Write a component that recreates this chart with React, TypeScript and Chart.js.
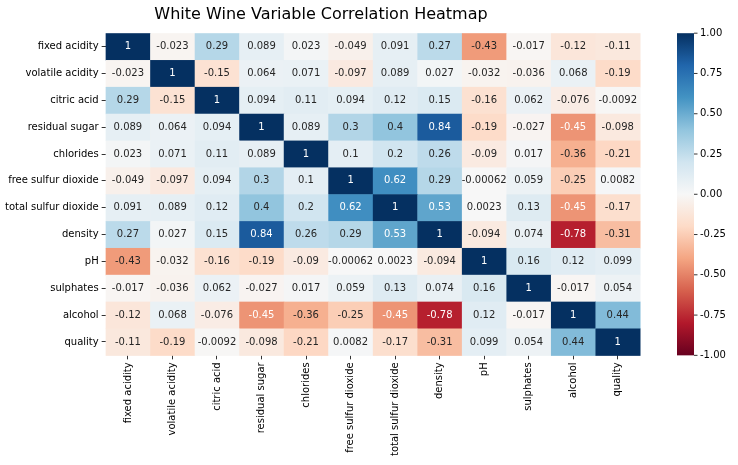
import React, { useEffect, useRef } from "react";
import { Chart, registerables } from "chart.js";
Chart.register(...registerables);

const variables = ["fixed acidity","volatile acidity","citric acid","residual sugar","chlorides","free sulfur dioxide","total sulfur dioxide","density","pH","sulphates","alcohol","quality"];
const rFixed = [1,-0.023,0.29,0.089,0.023,-0.049,0.091,0.27,-0.43,-0.017,-0.12,-0.11];
const rVolatile = [-0.023,1,-0.15,0.064,0.071,-0.097,0.089,0.027,-0.032,-0.036,0.068,-0.19];
const rCitric = [0.29,-0.15,1,0.094,0.11,0.094,0.12,0.15,-0.16,0.062,-0.076,-0.0092];
const rResidual = [0.089,0.064,0.094,1,0.089,0.3,0.4,0.84,-0.19,-0.027,-0.45,-0.098];
const rChlorides = [0.023,0.071,0.11,0.089,1,0.1,0.2,0.26,-0.09,0.017,-0.36,-0.21];
const rFree = [-0.049,-0.097,0.094,0.3,0.1,1,0.62,0.29,-0.00062,0.059,-0.25,0.0082];
const rTotal = [0.091,0.089,0.12,0.4,0.2,0.62,1,0.53,0.0023,0.13,-0.45,-0.17];
const rDensity = [0.27,0.027,0.15,0.84,0.26,0.29,0.53,1,-0.094,0.074,-0.78,-0.31];
const rPH = [-0.43,-0.032,-0.16,-0.19,-0.09,-0.00062,0.0023,-0.094,1,0.16,0.12,0.099];
const rSulphates = [-0.017,-0.036,0.062,-0.027,0.017,0.059,0.13,0.074,0.16,1,-0.017,0.054];
const rAlcohol = [-0.12,0.068,-0.076,-0.45,-0.36,-0.25,-0.45,-0.78,0.12,-0.017,1,0.44];
const rQuality = [-0.11,-0.19,-0.0092,-0.098,-0.21,0.0082,-0.17,-0.31,0.099,0.054,0.44,1];
const matrix = [rFixed,rVolatile,rCitric,rResidual,rChlorides,rFree,rTotal,rDensity,rPH,rSulphates,rAlcohol,rQuality];
const cbTicks = [1, 0.75, 0.5, 0.25, 0, -0.25, -0.5, -0.75, -1];

const stops = ["#67001f","#b2182b","#d6604d","#f4a582","#fddbc7","#f7f7f7","#d1e5f0","#92c5de","#4393c3","#2166ac","#053061"].map(h => [parseInt(h.slice(1,3),16),parseInt(h.slice(3,5),16),parseInt(h.slice(5,7),16)]);
function rgb(v: number): number[] {
  const t = Math.max(0, Math.min(1, (v + 1) / 2)) * 10;
  const i = Math.min(9, Math.floor(t)); const f = t - i;
  return [0,1,2].map(k => stops[i][k] + (stops[i+1][k] - stops[i][k]) * f);
}
const css = (c: number[]) => `rgb(${c.map(Math.round).join(",")})`;
function lum(c: number[]) {
  const l = c.map(x => { x /= 255; return x <= 0.03928 ? x / 12.92 : Math.pow((x + 0.055) / 1.055, 2.4); });
  return 0.2126 * l[0] + 0.7152 * l[1] + 0.0722 * l[2];
}
const fmt = (v: number) => String(Number(v.toPrecision(2)));

const heatPlugin = {
  id: "heat",
  beforeDatasetsDraw(chart: any) {
    const { ctx, scales: { x, y } } = chart;
    ctx.save();
    ctx.font = "10px 'DejaVu Sans'"; ctx.textAlign = "center"; ctx.textBaseline = "middle";
    matrix.forEach((row, r) => row.forEach((v, c) => {
      const x0 = x.getPixelForValue(c - 0.5), x1 = x.getPixelForValue(c + 0.5);
      const y0 = y.getPixelForValue(r - 0.5), y1 = y.getPixelForValue(r + 0.5);
      const col = rgb(v);
      ctx.fillStyle = css(col);
      ctx.fillRect(x0, y0, x1 - x0 + 0.5, y1 - y0 + 0.5);
      ctx.fillStyle = lum(col) < 0.408 ? "#fff" : "#262626";
      ctx.fillText(fmt(v), (x0 + x1) / 2, (y0 + y1) / 2);
    }));
    // colorbar
    const ca = chart.chartArea;
    const bx = 677, bw = 17, top = ca.top, bot = ca.bottom;
    const g = ctx.createLinearGradient(0, top, 0, bot);
    for (let i = 0; i <= 10; i++) g.addColorStop(i / 10, css(stops[10 - i]));
    ctx.fillStyle = g; ctx.fillRect(bx, top, bw, bot - top);
    ctx.textAlign = "left"; ctx.fillStyle = "#000"; ctx.strokeStyle = "#000"; ctx.lineWidth = 0.8;
    cbTicks.forEach(t => {
      const py = top + (1 - t) / 2 * (bot - top);
      ctx.beginPath(); ctx.moveTo(bx + bw, py); ctx.lineTo(bx + bw + 3.5, py); ctx.stroke();
      ctx.fillText(t.toFixed(2), bx + bw + 6, py);
    });
    ctx.restore();
  },
};

export default function App() {
  const ref = useRef<HTMLCanvasElement>(null);
  useEffect(() => {
    const ints = variables.map((_, i) => ({ value: i }));
    const chart = new Chart(ref.current!, {
      type: "scatter",
      data: { datasets: [{ data: [], pointRadius: 0 }] },
      options: {
        animation: false, responsive: false,
        layout: { padding: { right: 98, top: 0, left: 2, bottom: 6 } },
        plugins: {
          legend: { display: false }, tooltip: { enabled: false },
          title: { display: true, text: "White Wine Variable Correlation Heatmap", font: { size: 16, family: "'DejaVu Sans'", weight: "normal" }, color: "#000", padding: { top: 5, bottom: 9 } },
        },
        scales: {
          x: {
            type: "linear", min: -0.5, max: 11.5,
            afterBuildTicks: (s: any) => { s.ticks = ints.map(t => ({ ...t })); },
            ticks: { autoSkip: false, maxRotation: 90, minRotation: 90, color: "#000", font: { size: 10, family: "'DejaVu Sans'" }, callback: (v: any) => variables[v] },
            grid: { drawOnChartArea: false, tickLength: 4, color: "#333" }, border: { display: false },
          },
          y: {
            type: "linear", min: -0.5, max: 11.5, reverse: true,
            afterBuildTicks: (s: any) => { s.ticks = ints.map(t => ({ ...t })); },
            ticks: { autoSkip: false, color: "#000", font: { size: 10, family: "'DejaVu Sans'" }, callback: (v: any) => variables[v] },
            grid: { drawOnChartArea: false, tickLength: 4, color: "#333" }, border: { display: false },
          },
        },
      },
      plugins: [heatPlugin],
    } as any);
    return () => chart.destroy();
  }, []);
  return <canvas ref={ref} width={738} height={465} style={{ position: "fixed", left: 0, top: 0, background: "#fff" }} />;
}
